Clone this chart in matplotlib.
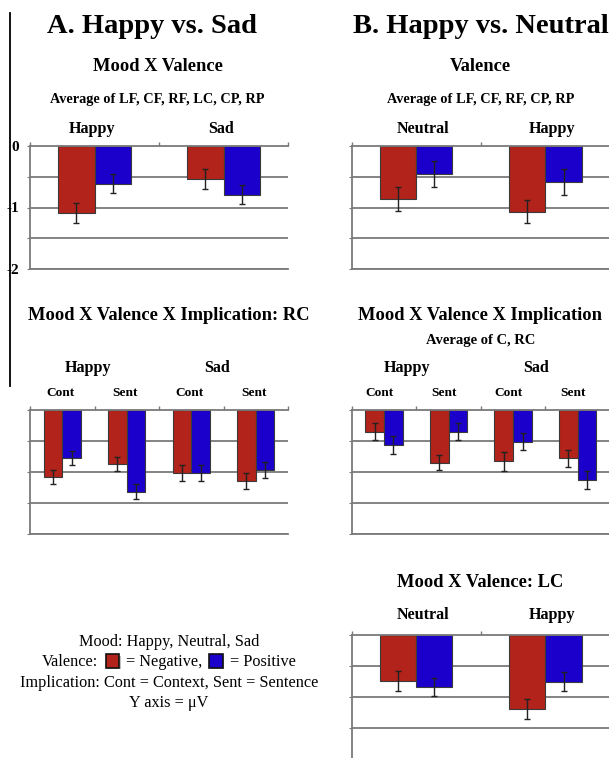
import matplotlib
matplotlib.use("Agg")
import matplotlib.pyplot as plt
from matplotlib.patches import Rectangle
from matplotlib.lines import Line2D
from matplotlib.transforms import blended_transform_factory
import numpy as np

# ---------------- data ----------------
# A top: Mood X Valence (average of LF, CF, RF, LC, CP, RP)
a_top_moods = ["Happy", "Sad"]
a_top_neg = [-1.09, -0.54]
a_top_pos = [-0.61, -0.79]
a_top_neg_err = [0.17, 0.16]
a_top_pos_err = [0.15, 0.15]

# B top: Valence (average of LF, CF, RF, CP, RP)
b_top_moods = ["Neutral", "Happy"]
b_top_neg = [-0.86, -1.07]
b_top_pos = [-0.46, -0.58]
b_top_neg_err = [0.19, 0.19]
b_top_pos_err = [0.21, 0.21]

# A middle: Mood X Valence X Implication: RC
a_mid_moods = ["Happy", "Sad"]
a_mid_impl = ["Cont", "Sent", "Cont", "Sent"]
a_mid_neg = [-1.08, -0.87, -1.02, -1.145]
a_mid_pos = [-0.77, -1.32, -1.02, -0.97]
a_mid_neg_err = [0.115, 0.12, 0.13, 0.13]
a_mid_pos_err = [0.115, 0.12, 0.13, 0.13]

# B middle: Mood X Valence X Implication (average of C, RC)
b_mid_moods = ["Happy", "Sad"]
b_mid_impl = ["Cont", "Sent", "Cont", "Sent"]
b_mid_neg = [-0.35, -0.85, -0.83, -0.78]
b_mid_pos = [-0.565, -0.35, -0.51, -1.13]
b_mid_neg_err = [0.14, 0.12, 0.155, 0.135]
b_mid_pos_err = [0.145, 0.135, 0.14, 0.14]

# B bottom: Mood X Valence: LC
b_bot_moods = ["Neutral", "Happy"]
b_bot_neg = [-0.74, -1.19]
b_bot_pos = [-0.84, -0.75]
b_bot_neg_err = [0.16, 0.16]
b_bot_pos_err = [0.15, 0.15]

y_ticks = [0, -0.5, -1, -1.5, -2]
y_tick_labels = ["0", "", "-1", "", "-2"]

# ---------------- style ----------------
RED = "#B1231B"
BLUE = "#1B00CC"
GRID = "#7a7a7a"
SERIF = ["Liberation Serif", "DejaVu Serif"]

W, H = 609, 758
fig = plt.figure(figsize=(W / 100, H / 100), dpi=100)


def fx(x):
    return x / W


def fy(y):
    return 1 - y / H


def ftext(x, y, s, size, bold=True, ha="center", **kw):
    fig.text(fx(x), fy(y), s, fontsize=size, fontfamily=SERIF,
             fontweight="bold" if bold else "normal", ha=ha, va="baseline", **kw)


def make_axes(left, top, right, bottom, neg, pos, neg_err, pos_err, width,
              show_labels=False):
    ax = fig.add_axes([fx(left), fy(bottom), (right - left) / W, (bottom - top) / H])
    n = len(neg)
    x = np.arange(n)
    ax.set_xlim(-0.5, n - 0.5)
    ax.set_ylim(-2, 0)
    for yv in [-0.5, -1, -1.5, -2]:
        ax.axhline(yv, color=GRID, lw=1.3, zorder=1)
    ek = dict(ecolor="#222222", elinewidth=1.0, capsize=2.4, capthick=1.0)
    ax.bar(x - width / 2, neg, width, color=RED, edgecolor="#3a3a3a", lw=0.8,
           yerr=neg_err, error_kw=ek, zorder=3)
    ax.bar(x + width / 2, pos, width, color=BLUE, edgecolor="#3a3a3a", lw=0.8,
           yerr=pos_err, error_kw=ek, zorder=3)
    ax.spines["right"].set_visible(False)
    for s in ["left", "top", "bottom"]:
        ax.spines[s].set_color(GRID)
        ax.spines[s].set_linewidth(1.3)
    ax.spines["top"].set_zorder(4)
    ax.xaxis.tick_top()
    ax.set_xticks(np.arange(n + 1) - 0.5)
    ax.set_xticklabels([""] * (n + 1))
    ax.tick_params(axis="x", direction="out", length=3, color=GRID, width=1)
    ax.set_yticks(y_ticks)
    if show_labels:
        ax.set_yticklabels(y_tick_labels, fontfamily=SERIF, fontweight="bold",
                           fontsize=11)
        ax.tick_params(axis="y", length=2, pad=6, color=GRID)
    else:
        ax.set_yticklabels([""] * len(y_ticks))
        ax.tick_params(axis="y", length=2, color=GRID)
    ax.set_facecolor("none")
    return ax


def group_label(ax, xdata, ypix, s, size):
    tr = blended_transform_factory(ax.transData, fig.transFigure)
    ax.text(xdata, fy(ypix), s, transform=tr, fontsize=size, fontfamily=SERIF,
            fontweight="bold", ha="center", va="baseline", clip_on=False)


# ---------------- panel A ----------------
ftext(151.7, 33.3, "A. Happy vs. Sad", 20.5)
ftext(158, 71, "Mood X Valence", 13.3)
ftext(157, 102.7, "Average of LF, CF, RF, LC, CP, RP", 10.3)
ax1 = make_axes(30, 146, 288, 269, a_top_neg, a_top_pos, a_top_neg_err,
                a_top_pos_err, 0.28, show_labels=True)
for i, m in enumerate(a_top_moods):
    group_label(ax1, i - 0.02, 133.3, m, 11.6)

ftext(168.5, 320, "Mood X Valence X Implication: RC", 13.3)
ax2 = make_axes(30, 410, 288, 534, a_mid_neg, a_mid_pos, a_mid_neg_err,
                a_mid_pos_err, 0.29)
for i, m in enumerate(a_mid_moods):
    group_label(ax2, 2 * i + 0.4, 371.7, m, 11.6)
for i, s in enumerate(a_mid_impl):
    group_label(ax2, i - 0.02, 396, s, 9.6)

# ---------------- panel B ----------------
ftext(480.7, 33.3, "B. Happy vs. Neutral", 20.5)
ftext(480, 71, "Valence", 13.3)
ftext(480.3, 102.7, "Average of LF, CF, RF, CP, RP", 10.3)
ax3 = make_axes(351.7, 146, 610, 269, b_top_neg, b_top_pos, b_top_neg_err,
                b_top_pos_err, 0.28)
for i, m in enumerate(b_top_moods):
    group_label(ax3, i + 0.05, 133.3, m, 11.6)

ftext(479.5, 320, "Mood X Valence X Implication", 13.3)
ftext(480.5, 344.3, "Average of C, RC", 10.5)
ax4 = make_axes(351.7, 410, 610, 534, b_mid_neg, b_mid_pos, b_mid_neg_err,
                b_mid_pos_err, 0.29)
for i, m in enumerate(b_mid_moods):
    group_label(ax4, 2 * i + 0.35, 371.7, m, 11.6)
for i, s in enumerate(b_mid_impl):
    group_label(ax4, i - 0.07, 396, s, 9.6)

ftext(480.3, 586.7, "Mood X Valence: LC", 13.3)
ax5 = make_axes(351.7, 635, 610, 759, b_bot_neg, b_bot_pos, b_bot_neg_err,
                b_bot_pos_err, 0.28)
for i, m in enumerate(b_bot_moods):
    group_label(ax5, i + 0.05, 619.3, m, 11.6)

# ---------------- key ----------------
ftext(169, 646, "Mood: Happy, Neutral, Sad", 11.7, bold=False)
ftext(41.7, 666, "Valence:", 11.7, bold=False, ha="left")
ftext(126, 666, "= Negative,", 11.7, bold=False, ha="left")
ftext(230, 666, "= Positive", 11.7, bold=False, ha="left")
ftext(169, 686.7, "Implication: Cont = Context, Sent = Sentence", 11.7, bold=False)
ftext(169, 706.7, "Y axis = μV", 11.7, bold=False)
for (x0, col) in [(106, RED), (209.3, BLUE)]:
    # soft shadow behind each key swatch
    fig.patches.append(Rectangle((fx(x0 + 1.2), fy(669.0)), 13.3 / W, 13.4 / H,
                                 transform=fig.transFigure, facecolor="#999999",
                                 edgecolor="none", alpha=0.6))
    fig.patches.append(Rectangle((fx(x0), fy(667.7)), 13.3 / W, 13.4 / H,
                                 transform=fig.transFigure, facecolor=col,
                                 edgecolor="#111111", lw=1.2))

# left vertical rule
fig.add_artist(Line2D([fx(9.5), fx(9.5)], [fy(13), fy(386)],
                      transform=fig.transFigure, color="black", lw=1.3))

fig.savefig("out.png", dpi=100, facecolor="white")
